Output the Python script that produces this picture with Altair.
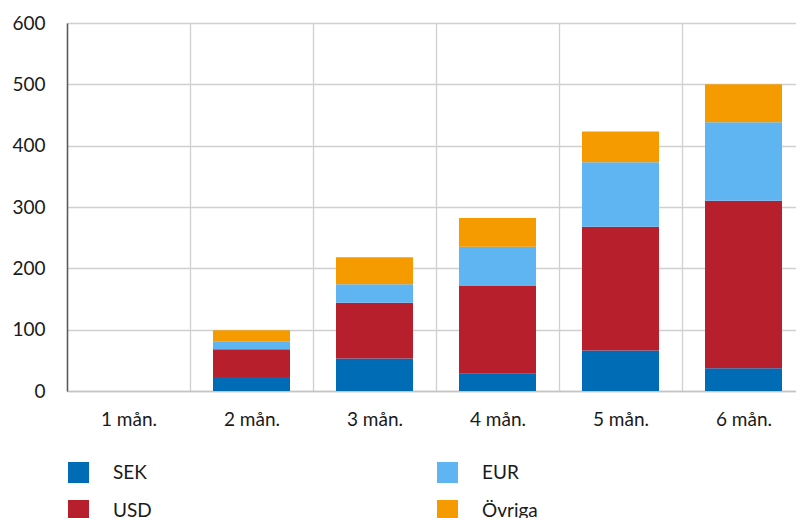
import altair as alt
import pandas as pd

# Maturity buckets on the x axis
months = ["1 mån.", "2 mån.", "3 mån.", "4 mån.", "5 mån.", "6 mån."]

# Stacked values per currency (bottom to top: SEK, USD, EUR, Övriga)
sek = [0, 23, 53, 28, 66, 37]
usd = [0, 45, 91, 143, 202, 273]
eur = [0, 13, 30, 64, 105, 128]
ovriga = [0, 18, 44, 47, 50, 62]

stack_order = ["SEK", "USD", "EUR", "Övriga"]
legend_order = ["SEK", "EUR", "USD", "Övriga"]
legend_colors = ["#006cb6", "#5fb4f2", "#b81f2d", "#f59b00"]

series = {"SEK": sek, "USD": usd, "EUR": eur, "Övriga": ovriga}
rows = []
for name in stack_order:
    for m, v in zip(months, series[name]):
        rows.append({"month": m, "series": name, "value": v,
                     "stack": stack_order.index(name)})
df = pd.DataFrame(rows)

FONT = "Lato"

# Bands fill the whole width so grid lines fall on bucket boundaries;
# the bars themselves take part of each band.
chart = alt.Chart(df).mark_bar(width=alt.RelativeBandSize(0.626)).encode(
    x=alt.X(
        "month:N",
        sort=months,
        scale=alt.Scale(paddingInner=0, paddingOuter=0),
        axis=alt.Axis(
            title=None, labelAngle=0, tickBand="extent", grid=True,
            ticks=False, domainColor="#c4c4c4", domainWidth=1.5,
            labelPadding=19, labelFontSize=19,
        ),
    ),
    y=alt.Y(
        "value:Q",
        stack="zero",
        scale=alt.Scale(domain=[0, 600], nice=False),
        axis=alt.Axis(
            title=None, values=[0, 100, 200, 300, 400, 500, 600],
            ticks=False, domainColor="#595959", domainWidth=1.5,
            labelPadding=22, labelFontSize=19, grid=True,
        ),
    ),
    color=alt.Color(
        "series:N",
        scale=alt.Scale(domain=legend_order, range=legend_colors),
        legend=alt.Legend(
            title=None, orient="none", legendX=1, legendY=439,
            direction="horizontal", columns=2, symbolType="square",
            symbolSize=441, symbolStrokeWidth=0, labelOffset=24,
            labelFontSize=19, rowPadding=17, columnPadding=285,
        ),
    ),
    order=alt.Order("stack:Q", sort="ascending"),
).properties(
    width=738,
    height=368,
    padding={"left": 67, "top": 23, "right": -9, "bottom": 127},
    autosize="none",
).configure_view(
    stroke=None
).configure_axis(
    gridColor="#d0d0d0", gridWidth=1.3, labelColor="#1a1a1a", labelFont=FONT,
).configure_legend(
    labelFont=FONT, labelColor="#1a1a1a",
)

chart.save("out.html", embed_options={"renderer": "svg", "actions": False})
